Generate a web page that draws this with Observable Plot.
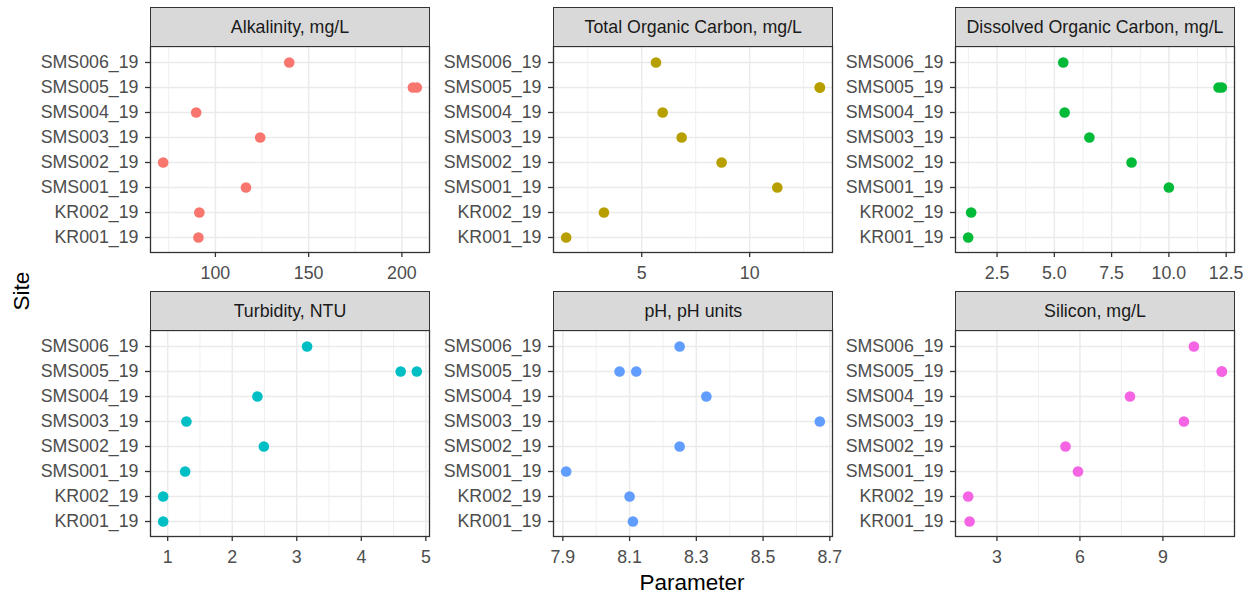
<!DOCTYPE html>
<html><head><meta charset="utf-8">
<script src="https://cdn.jsdelivr.net/npm/d3@7"></script>
<script src="https://cdn.jsdelivr.net/npm/@observablehq/plot@0.6"></script>
<style>
body{margin:0;background:#fff;}
#chart{position:relative;width:1254px;height:596px;overflow:hidden;font-family:"Liberation Sans",Arial,sans-serif;background:#fff;}
.strip{position:absolute;background:#D9D9D9;border:1.3px solid #333333;box-sizing:border-box;color:#1A1A1A;font-size:17.8px;display:flex;align-items:center;justify-content:center;white-space:nowrap;}
.panel{position:absolute;}
.title{position:absolute;color:#000;font-size:22.5px;white-space:nowrap;}
</style></head><body><div id="chart"></div>
<script>
// Sites (bottom to top as drawn) and one entry per sample (SMS005_19 has a duplicate)
const sites = ["KR001_19","KR002_19","SMS001_19","SMS002_19","SMS003_19","SMS004_19","SMS005_19","SMS006_19"];
const sampleSites = ["KR001_19","KR002_19","SMS001_19","SMS002_19","SMS003_19","SMS004_19","SMS005_19","SMS005_19","SMS006_19"];

const parameters = ["Alkalinity, mg/L","Total Organic Carbon, mg/L","Dissolved Organic Carbon, mg/L","Turbidity, NTU","pH, pH units","Silicon, mg/L"];
const colors = ["#F8766D","#B79F00","#00BA38","#00BFC4","#619CFF","#F564E3"];

const alkalinity = [90.9, 91.4, 116.4, 72.0, 124.0, 89.7, 205.9, 208.0, 139.6];
const toc        = [1.50, 3.25, 11.28, 8.70, 6.85, 5.97, 13.25, 13.25, 5.66];
const doc        = [1.24, 1.37, 10.00, 8.37, 6.53, 5.45, 12.17, 12.31, 5.39];
const turbidity  = [0.93, 0.93, 1.27, 2.49, 1.29, 2.39, 4.61, 4.86, 3.16];
const ph         = [8.11, 8.10, 7.91, 8.25, 8.67, 8.33, 8.07, 8.12, 8.25];
const silicon    = [2.01, 1.96, 5.93, 5.48, 9.76, 7.81, 11.13, 11.13, 10.12];

const alkTicks = [100, 150, 200];          const alkLabels = ["100","150","200"];
const tocTicks = [5, 10];                  const tocLabels = ["5","10"];
const docTicks = [2.5, 5, 7.5, 10, 12.5];  const docLabels = ["2.5","5.0","7.5","10.0","12.5"];
const turbTicks = [1, 2, 3, 4, 5];         const turbLabels = ["1","2","3","4","5"];
const phTicks = [7.9, 8.1, 8.3, 8.5, 8.7]; const phLabels = ["7.9","8.1","8.3","8.5","8.7"];
const siTicks = [3, 6, 9];                 const siLabels = ["3","6","9"];

const xTitle = "Parameter";
const yTitle = "Site";

const series = [alkalinity, toc, doc, turbidity, ph, silicon];
const ticks = [alkTicks, tocTicks, docTicks, turbTicks, phTicks, siTicks];
const labels = [alkLabels, tocLabels, docLabels, turbLabels, phLabels, siLabels];

const chart = document.getElementById("chart");
const yDomain = sites.slice().reverse();
const FONT = '"Liberation Sans", Arial, sans-serif';
const colLeft = [0, 403.3, 805];
const rowTop = [0, 284];

parameters.forEach((name, k) => {
  const vals = series[k];
  const rows = vals.map((v, i) => ({site: sampleSites[i], value: v}));
  const [lo, hi] = d3.extent(vals);
  const pad = (hi - lo) * 0.05;
  const domain = [lo - pad, hi + pad];
  const major = ticks[k];
  const step = major.length > 1 ? major[1] - major[0] : 1;
  const minor = [major[0] - step / 2, ...major.map(t => t + step / 2)].filter(t => t >= domain[0] && t <= domain[1]);
  const lab = labels[k];
  const col = k % 3, row = Math.floor(k / 3);

  const svg = Plot.plot({
    width: 440, height: 280,
    marginLeft: 150, marginRight: 11, marginTop: 46, marginBottom: 28,
    x: {domain, label: null},
    y: {type: "point", domain: yDomain, padding: 0.6, label: null},
    style: {fontFamily: FONT, background: "transparent", overflow: "visible"},
    marks: [
      Plot.ruleX(minor, {stroke: "#EBEBEB", strokeWidth: 0.8}),
      Plot.ruleX(major, {stroke: "#EBEBEB", strokeWidth: 1.5}),
      Plot.ruleY(yDomain, {stroke: "#EBEBEB", strokeWidth: 1.5}),
      Plot.dot(rows, {x: "value", y: "site", r: 5.3, fill: colors[k]}),
      Plot.frame({stroke: "#333333", strokeWidth: 1.3}),
      Plot.axisX(major, {tickSize: 5, tickPadding: 9, fontSize: 17.8, stroke: "#333333", strokeWidth: 1.3, fill: "#4D4D4D",
        tickFormat: d => lab[major.indexOf(d)], label: null}),
      Plot.axisY(yDomain, {tickSize: 5, tickPadding: 7, fontSize: 17.8, stroke: "#333333", strokeWidth: 1.3, fill: "#4D4D4D", label: null})
    ]
  });
  svg.classList.add("panel");
  svg.style.left = colLeft[col] + "px";
  svg.style.top = rowTop[row] + "px";
  chart.appendChild(svg);

  const strip = document.createElement("div");
  strip.className = "strip";
  strip.textContent = name;
  strip.style.left = (colLeft[col] + 150) + "px";
  strip.style.top = (rowTop[row] + 7) + "px";
  strip.style.width = "280px";
  strip.style.height = "40px";
  chart.appendChild(strip);
});

const yt = document.createElement("div");
yt.className = "title";
yt.textContent = yTitle;
yt.style.left = "22px"; yt.style.top = "291px";
yt.style.transform = "translate(-50%,-50%) rotate(-90deg)";
chart.appendChild(yt);

const xt = document.createElement("div");
xt.className = "title";
xt.textContent = xTitle;
xt.style.left = "692px"; xt.style.top = "583px";
xt.style.transform = "translate(-50%,-50%)";
chart.appendChild(xt);
</script>
</body></html>
